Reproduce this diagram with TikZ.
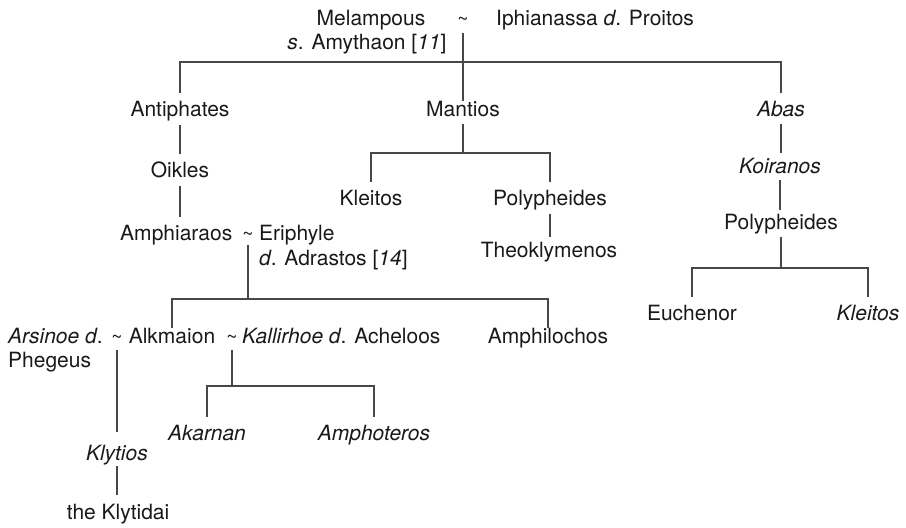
\documentclass[tikz,border=0pt]{standalone}
\usepackage{fontspec}
\setmainfont{TeX Gyre Heros}
\begin{document}
\begin{tikzpicture}[x=1pt,y=-1pt,
  every node/.style={inner sep=0pt, text height=15pt, text depth=4pt,
    anchor=base, font=\fontsize{21}{25}\selectfont, text=black!90},
  lw/.style={anchor=base west},
  tl/.style={font=\fontsize{19}{22}\selectfont},
  ln/.style={draw=black!72, line width=1.1pt},
  edge/.style={ln, shorten <=5pt, shorten >=8pt},
  stem/.style={ln, shorten <=4pt},
  drop/.style={ln, shorten >=8pt}]
\useasboundingbox (0,0) rectangle (906,528);

% Melampous and Iphianassa
\node (melampous) at (371,25) {Melampous};
\node (amythaon) at (367,49) {\textit{s}. Amythaon [\textit{11}]};
\node[tl] (t0) at (463,25) {\textasciitilde};
\node[lw] (iphianassa) at (496,25) {Iphianassa \textit{d}. Proitos};

% first generation
\node (antiphates) at (180,116) {Antiphates};
\node (mantios) at (463,116) {Mantios};
\node (abas) at (781,116) {\textit{Abas}};
\coordinate (b1) at (463,62);
\draw[stem] (t0.south) -- (mantios.north);
\draw[drop] (b1) -| (antiphates.north);
\draw[drop] (b1) -| (abas.north);

% line of Antiphates
\node (oikles) at (180,177) {Oikles};
\node[lw] (amphiaraos) at (120,240) {Amphiaraos};
\node[tl] (t2) at (248,240) {\textasciitilde};
\node[lw] (eriphyle) at (259,240) {Eriphyle};
\node[lw] (adrastos) at (259,265) {\textit{d}. Adrastos [\textit{14}]};
\draw[edge] (antiphates.south) -- (oikles.north);
\draw[edge] (oikles.south) -- (oikles.south |- amphiaraos.north);

% line of Mantios
\node (kleitos) at (371,205) {Kleitos};
\node (polypheides) at (550,205) {Polypheides};
\node (theoklymenos) at (549,257) {Theoklymenos};
\coordinate (b2) at (463,153);
\draw[stem] (mantios.south) -- (b2);
\draw[drop] (b2) -| (kleitos.north);
\draw[drop] (b2) -| (polypheides.north);
\draw[edge, shorten >=5pt] (polypheides.south) -- (polypheides.south |- theoklymenos.north);

% line of Abas
\node (koiranos) at (780,173) {\textit{Koiranos}};
\node (polypheidesb) at (781,229) {Polypheides};
\node (euchenor) at (692,320) {Euchenor};
\node (kleitosb) at (868,320) {\textit{Kleitos}};
\coordinate (b3) at (781,268);
\draw[edge, shorten <=4pt, shorten >=5pt] (abas.south) -- (abas.south |- koiranos.north);
\draw[edge, shorten <=3pt, shorten >=4pt] (koiranos.south) -- (koiranos.south |- polypheidesb.north);
\draw[stem] (polypheidesb.south) -- (b3);
\draw[drop] (b3) -| (euchenor.north);
\draw[drop] (b3) -| (kleitosb.north);

% children of Amphiaraos and Eriphyle
\node[lw] (arsinoe) at (8,343) {\textit{Arsinoe d}.};
\node (phegeus) [lw] at (8,367) {Phegeus};
\node[tl] (t3) at (117,343) {\textasciitilde};
\node (alkmaion) at (172,343) {Alkmaion};
\node[tl] (t4) at (232,343) {\textasciitilde};
\node[lw] (kallirhoe) at (242,343) {\textit{Kallirhoe d}. Acheloos};
\node (amphilochos) at (548,343) {Amphilochos};
\coordinate (b4) at (248,299);
\draw[ln, shorten <=1pt] (t2.south) -- (b4);
\draw[ln] (b4) -| (alkmaion.north);
\draw[ln] (b4) -| (amphilochos.north);

% children of Alkmaion
\node (klytios) at (117,460) {\textit{Klytios}};
\node (klytidai) at (118,519) {the Klytidai};
\node (akarnan) at (207,440) {\textit{Akarnan}};
\node (amphoteros) at (374,440) {\textit{Amphoteros}};
\coordinate (b5) at (232,386);
\draw[ln, shorten <=3pt, shorten >=13pt] (t3.south) -- (t3.south |- klytios.north);
\draw[ln, shorten <=3pt] (t4.south) -- (b5);
\draw[drop] (b5) -| (akarnan.north);
\draw[drop] (b5) -| (amphoteros.north);
\draw[edge, shorten <=2pt, shorten >=9pt] (klytios.south) -- (klytios.south |- klytidai.north);
\end{tikzpicture}
\end{document}
